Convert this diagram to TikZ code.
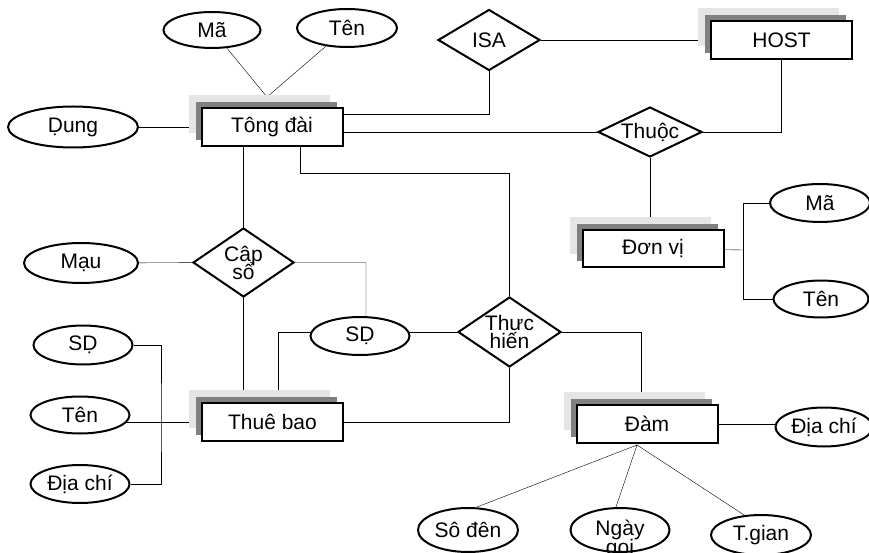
\documentclass[tikz,border=0pt]{standalone}
\usepackage{fontspec}
\setmainfont{Liberation Sans}
\usetikzlibrary{shapes.geometric,shadows,backgrounds}
\lineskiplimit=-100pt

\begin{document}
\begin{tikzpicture}[x=1pt,y=-1pt,line width=2pt,
    every node/.style={font=\fontsize{21}{18}\selectfont,inner sep=0pt,align=center},
    entity/.style={draw,fill=white,minimum width=141,minimum height=38,
        general shadow={shadow xshift=-13pt,shadow yshift=13pt,fill=black!10,draw=none},
        general shadow={shadow xshift=-6pt,shadow yshift=6pt,fill=black!50,draw=none}},
    attr/.style={draw,fill=white,ellipse,minimum width=99,minimum height=38},
    rel/.style={draw,fill=white,diamond,aspect=1.5,minimum width=102,minimum height=61}]
    \useasboundingbox (0,0) rectangle (869,553);
    \node[entity] (tongdai) at (272,127) {Tông đài};
    \node[entity] (host) at (781.5,40) {HOST};
    \node[entity,minimum height=37] (donvi) at (653,248.5) {Đơn vị};
    \node[entity] (thuebao) at (272.5,422) {Thuê bao};
    \node[entity] (dam) at (647,424) {Đàm};
    \node[rel] (isa) at (489,40) {ISA};
    \node[rel,aspect=2,minimum width=104,minimum height=50] (thuoc) at (650,132) {Thuộc};
    \node[rel,minimum width=101,minimum height=69] (capso) at (243.5,262.5) {Câp\\sổ};
    \node[rel,minimum width=103,minimum height=70] (thuchien) at (509.5,332) {Thưc\\hiến};
    \node[attr,minimum width=97,minimum height=36] (ma1) at (212,30) {Mã};
    \node[attr,minimum width=100] (ten1) at (347,28) {Tên};
    \node[attr,minimum width=130,minimum height=41] (dung) at (73,127) {Ḍung};
    \node[attr,minimum width=114,minimum height=40] (mau) at (81,263) {Mạu};
    \node[attr,minimum height=39] (sd1) at (83,345) {SḌ};
    \node[attr,minimum height=37] (ten2) at (80,415) {Tên};
    \node[attr] (diachi1) at (80,484) {Địa chí};
    \node[attr] (sd2) at (360,336) {SḌ};
    \node[attr,minimum width=100] (ma2) at (820,203) {Mã};
    \node[attr,minimum width=95,minimum height=37] (ten3) at (821,299) {Tên};
    \node[attr,minimum width=97,minimum height=39] (diachi2) at (824,427) {Địa chí};
    \node[attr,minimum width=100,minimum height=44] (soden) at (468,530) {Sô đên};
    \node[attr,minimum height=44,label={[anchor=base,yshift=-1pt]south:gọi}] (ngay) at (620,530) {Ngày};
    \node[attr,minimum width=100,minimum height=40] (tgian) at (761,535) {T.gian};
    \coordinate (tdtop) at (267,97);
    \coordinate (tdbend) at (509.5,173);
    \coordinate (dvjoin) at (743,250);
    \coordinate (tbjoin) at (161,420);
    \coordinate (dambot) at (637,445);
    \begin{scope}[on background layer]
    \draw (ma1) -- (tdtop) -- (ten1);
    \draw (dung) -- (tongdai);
    \draw (isa) -- (host);
    \draw (isa) |- ([yshift=13pt]tongdai.center);
    \draw ([yshift=-5pt]tongdai.center) -- (thuoc) -| (host);
    \draw (thuoc) -- (thuoc |- donvi);
    \draw (donvi) -- (dvjoin);
    \draw (ma2) -| (dvjoin) |- (ten3);
    \draw (capso |- tongdai) -- (capso |- thuebao);
    \draw (mau) -- (capso) -| ([xshift=6pt]sd2.center);
    \draw ([yshift=4pt]sd2.center) -| ([xshift=5.5pt]thuebao.center);
    \draw (thuchien) -- (thuchien -| sd2);
    \draw ([xshift=28pt]tongdai.center) |- (tdbend) -- (thuchien);
    \draw (thuebao) -| (thuchien);
    \draw (thuchien) -| ([xshift=-6pt]dam.center);
    \draw (dam) -- (dam -| diachi2);
    \draw (soden.70) -- (dambot) -- (ngay.100);
    \draw (dambot) -- (tgian.130);
    \draw (sd1) -| (tbjoin) |- (diachi1);
    \draw (thuebao) -- (thuebao -| ten2);
    \end{scope}
\end{tikzpicture}
\end{document}
